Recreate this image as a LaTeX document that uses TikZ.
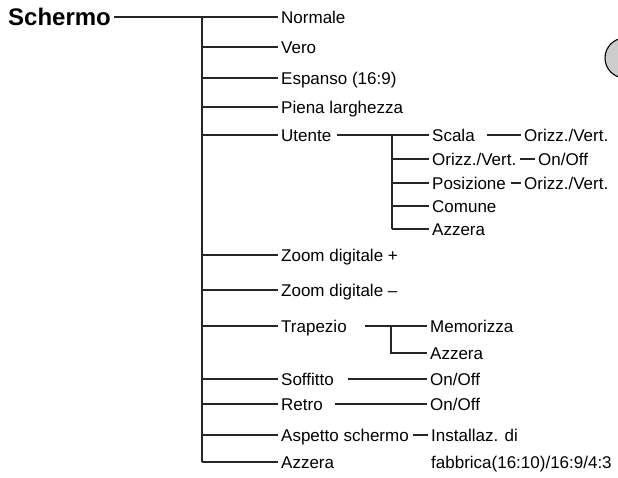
\documentclass[tikz,border=0pt]{standalone}
\usepackage{fontspec}
\setmainfont{Liberation Sans}
\tikzset{
  item/.style={anchor=west, inner xsep=3pt, inner ysep=0pt, text height=12pt, text depth=0pt, font=\fontsize{17}{20}\selectfont},
  title/.style={anchor=west, inner xsep=3pt, inner ysep=0pt, text height=17pt, text depth=0pt, font=\fontsize{24}{28}\selectfont\bfseries},
  conn/.style={line width=1.1pt, black!85},
}
\begin{document}
\begin{tikzpicture}[x=1pt, y=-1pt]
\useasboundingbox (0,0) rectangle (618,477);
\begin{scope}
\clip (0,0) rectangle (618,477);
\draw[line width=1.1pt, fill=black!20] (625,58) circle (20);
\end{scope}

% title and main items
\node[title] (sch) at (5,17) {Schermo};
\node[item] (m1) at (278,17) {Normale};
\node[item] (m2) at (278,47) {Vero};
\node[item] (m3) at (278,78) {Espanso (16:9)};
\node[item] (m4) at (278,107) {Piena larghezza};
\node[item] (m5) at (278,135) {Utente};
\node[item] (m6) at (278,255) {Zoom digitale +};
\node[item] (m7) at (278,290) {Zoom digitale --};
\node[item] (m8) at (278,326) {Trapezio};
\node[item] (m9) at (278,379) {Soffitto};
\node[item] (m10) at (278,404) {Retro};
\node[item] (m11) at (278,435) {Aspetto schermo};
\node[item] (m12) at (278,462) {Azzera};

\coordinate (tr) at (202,17);
\draw[conn] (sch.east) -- (m1.west);
\draw[conn] (tr) -- (tr |- m12.west);
\foreach \n in {m2,m3,m4,m5,m6,m7,m8,m9,m10,m11,m12}
  \draw[conn] (tr |- \n.west) -- (\n.west);

% Utente submenu
\node[item] (u1) at (429,135) {Scala};
\node[item] (u2) at (429,159) {Orizz./Vert.};
\node[item] (u3) at (429,183) {Posizione};
\node[item] (u4) at (429,206) {Comune};
\node[item] (u5) at (429,229) {Azzera};
\coordinate (ut) at (392,135);
\draw[conn] ([xshift=3pt]m5.east) -- (u1.west);
\draw[conn] (ut) -- (ut |- u5.west);
\foreach \n in {u2,u3,u4,u5}
  \draw[conn] (ut |- \n.west) -- (\n.west);

\node[item] (v1) at (521,135) {Orizz./Vert.};
\node[item] (v2) at (535,159) {On/Off};
\node[item] (v3) at (521,183) {Orizz./Vert.};
\draw[conn] ([xshift=9pt]u1.east) -- (v1.west);
\draw[conn] ([xshift=1pt]u2.east) -- (v2.west);
\draw[conn] ([xshift=2pt]u3.east) -- (v3.west);

% Trapezio submenu
\node[item] (t1) at (427,326) {Memorizza};
\node[item] (t2) at (427,353) {Azzera};
\coordinate (tt) at (391,326);
\draw[conn] ([xshift=15pt]m8.east) -- (t1.west);
\draw[conn] (tt) -- (tt |- t2.west) -- (t2.west);

% Soffitto, Retro, Aspetto
\node[item] (s1) at (427,379) {On/Off};
\node[item] (r1) at (427,404) {On/Off};
\node[item] (a1) at (428,435) {Installaz. di};
\node[item] (a2) at (428,462) {fabbrica(16:10)/16:9/4:3};
\draw[conn] ([xshift=11pt]m9.east) -- (s1.west);
\draw[conn] ([xshift=9pt]m10.east) -- (r1.west);
\draw[conn] ([xshift=1pt]m11.east) -- (a1.west);
\end{tikzpicture}
\end{document}
